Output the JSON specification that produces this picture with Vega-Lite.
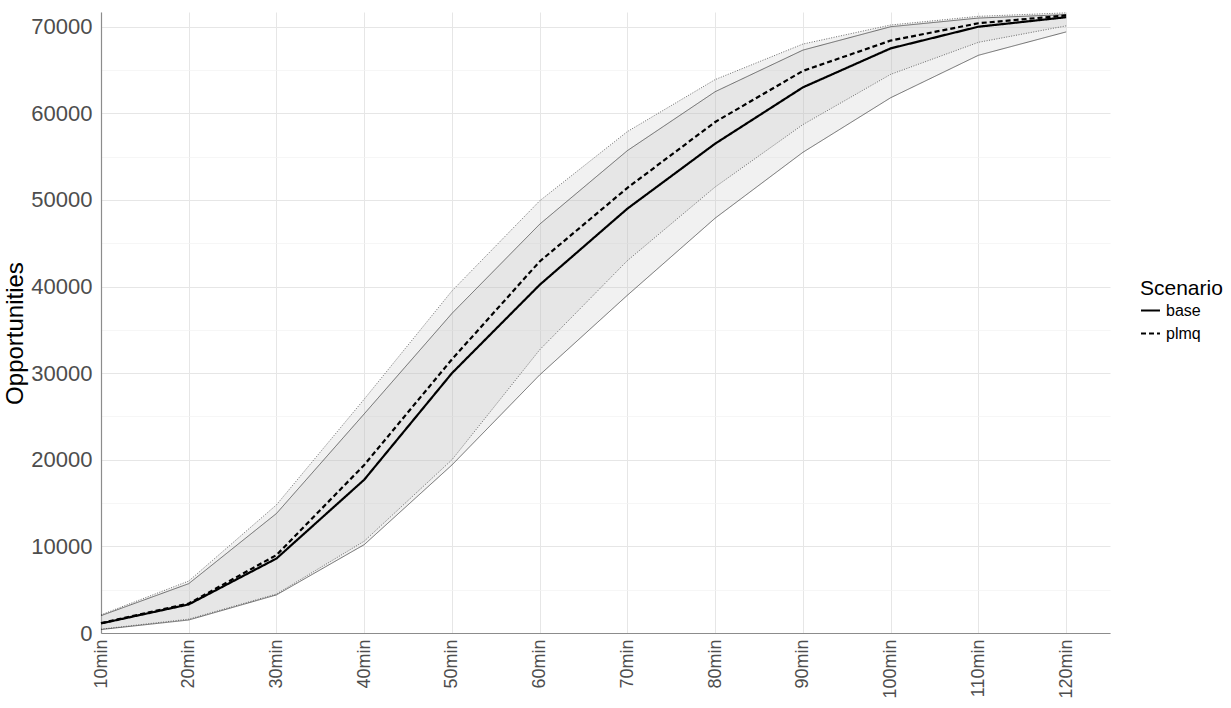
{
  "$schema": "https://vega.github.io/schema/vega-lite/v6.json",
  "width": 1009,
  "height": 621,
  "autosize": {"type": "none"},
  "padding": {"left": 101, "top": 12, "right": 121, "bottom": 75},
  "background": "white",
  "config": {
    "view": {"stroke": null},
    "font": "Liberation Sans",
    "axis": {"labelFont": "Liberation Sans", "titleFont": "Liberation Sans"},
    "legend": {"labelFont": "Liberation Sans", "titleFont": "Liberation Sans"}
  },
  "data": {
    "values": [
      {"minutes": 10, "scenario": "base", "mid": 1100, "lo": 400, "hi": 2000},
      {"minutes": 20, "scenario": "base", "mid": 3300, "lo": 1500, "hi": 5700},
      {"minutes": 30, "scenario": "base", "mid": 8600, "lo": 4400, "hi": 13800},
      {"minutes": 40, "scenario": "base", "mid": 17700, "lo": 10200, "hi": 25300},
      {"minutes": 50, "scenario": "base", "mid": 30000, "lo": 19400, "hi": 36900},
      {"minutes": 60, "scenario": "base", "mid": 40200, "lo": 29800, "hi": 47200},
      {"minutes": 70, "scenario": "base", "mid": 49000, "lo": 39000, "hi": 55700},
      {"minutes": 80, "scenario": "base", "mid": 56500, "lo": 47900, "hi": 62500},
      {"minutes": 90, "scenario": "base", "mid": 63000, "lo": 55500, "hi": 67300},
      {"minutes": 100, "scenario": "base", "mid": 67500, "lo": 61800, "hi": 70000},
      {"minutes": 110, "scenario": "base", "mid": 70000, "lo": 66700, "hi": 71000},
      {"minutes": 120, "scenario": "base", "mid": 71100, "lo": 69400, "hi": 71400},
      {"minutes": 10, "scenario": "plmq", "mid": 1150, "lo": 450, "hi": 2100},
      {"minutes": 20, "scenario": "plmq", "mid": 3400, "lo": 1600, "hi": 6000},
      {"minutes": 30, "scenario": "plmq", "mid": 9000, "lo": 4500, "hi": 14800},
      {"minutes": 40, "scenario": "plmq", "mid": 19400, "lo": 10600, "hi": 27000},
      {"minutes": 50, "scenario": "plmq", "mid": 31600, "lo": 20000, "hi": 39500},
      {"minutes": 60, "scenario": "plmq", "mid": 42900, "lo": 32700, "hi": 49900},
      {"minutes": 70, "scenario": "plmq", "mid": 51400, "lo": 43000, "hi": 57900},
      {"minutes": 80, "scenario": "plmq", "mid": 59000, "lo": 51500, "hi": 63900},
      {"minutes": 90, "scenario": "plmq", "mid": 64900, "lo": 58700, "hi": 68000},
      {"minutes": 100, "scenario": "plmq", "mid": 68400, "lo": 64500, "hi": 70200},
      {"minutes": 110, "scenario": "plmq", "mid": 70400, "lo": 68200, "hi": 71200},
      {"minutes": 120, "scenario": "plmq", "mid": 71300, "lo": 70100, "hi": 71600}
    ]
  },
  "encoding": {
    "x": {
      "field": "minutes",
      "type": "quantitative",
      "scale": {"domain": [10, 125], "nice": false, "zero": false},
      "axis": {
        "values": [10, 20, 30, 40, 50, 60, 70, 80, 90, 100, 110, 120],
        "labelExpr": "datum.value + 'min'",
        "labelAngle": -90,
        "labelAlign": "right",
        "labelBaseline": "middle",
        "labelFontSize": 18,
        "labelColor": "#4d4d4d",
        "labelPadding": 6,
        "ticks": false,
        "domainColor": "#8c8c8c",
        "domainWidth": 1.2,
        "gridColor": "#e6e6e6",
        "gridWidth": 1,
        "title": null
      }
    }
  },
  "layer": [
    {
      "mark": {"type": "area", "color": "#bebebe", "opacity": 0.22},
      "encoding": {
        "y": {
          "field": "lo",
          "type": "quantitative",
          "scale": {"domain": [0, 71700], "nice": false},
          "axis": {
            "values": [0, 5000, 10000, 15000, 20000, 25000, 30000, 35000, 40000, 45000, 50000, 55000, 60000, 65000, 70000],
            "labelExpr": "datum.value % 10000 === 0 ? '' + datum.value : ''",
            "labelFontSize": 22,
            "labelColor": "#4d4d4d",
            "labelPadding": 9,
            "ticks": false,
            "domainColor": "#8c8c8c",
            "domainWidth": 1.2,
            "gridColor": {"condition": {"test": "datum.value % 10000 === 0", "value": "#e6e6e6"}, "value": "#f2f2f2"},
            "gridWidth": {"condition": {"test": "datum.value % 10000 === 0", "value": 1}, "value": 0.7},
            "title": "Opportunities",
            "titleFontSize": 24,
            "titleFontWeight": "normal",
            "titleColor": "#000000",
            "titleAngle": -90,
            "titleX": -79,
            "titleY": 321,
            "titleAlign": "center",
            "titleBaseline": "alphabetic"
          }
        },
        "y2": {"field": "hi"},
        "detail": {"field": "scenario"}
      }
    },
    {
      "mark": {"type": "line", "color": "#333333", "strokeWidth": 0.7},
      "encoding": {
        "y": {"field": "lo", "type": "quantitative"},
        "detail": {"field": "scenario"},
        "strokeDash": {"condition": {"test": "datum.scenario === 'plmq'", "value": [1, 1.5]}, "value": [1, 0]}
      }
    },
    {
      "mark": {"type": "line", "color": "#333333", "strokeWidth": 0.7},
      "encoding": {
        "y": {"field": "hi", "type": "quantitative"},
        "detail": {"field": "scenario"},
        "strokeDash": {"condition": {"test": "datum.scenario === 'plmq'", "value": [1, 1.5]}, "value": [1, 0]}
      }
    },
    {
      "mark": {"type": "line", "color": "#000000", "strokeWidth": 2.2},
      "encoding": {
        "y": {"field": "mid", "type": "quantitative"},
        "strokeDash": {
          "field": "scenario",
          "type": "nominal",
          "scale": {"domain": ["base", "plmq"], "range": [[1, 0], [5, 3]]},
          "legend": {
            "title": "Scenario",
            "orient": "none",
            "legendX": 1039,
            "legendY": 266,
            "titleFontSize": 21,
            "titleFontWeight": "normal",
            "titleColor": "#000000",
            "titlePadding": 1,
            "labelFontSize": 16,
            "labelColor": "#000000",
            "labelOffset": 5,
            "symbolType": "stroke",
            "symbolStrokeColor": "#000000",
            "symbolStrokeWidth": 2,
            "symbolSize": 360,
            "rowPadding": 4
          }
        }
      }
    }
  ]
}
